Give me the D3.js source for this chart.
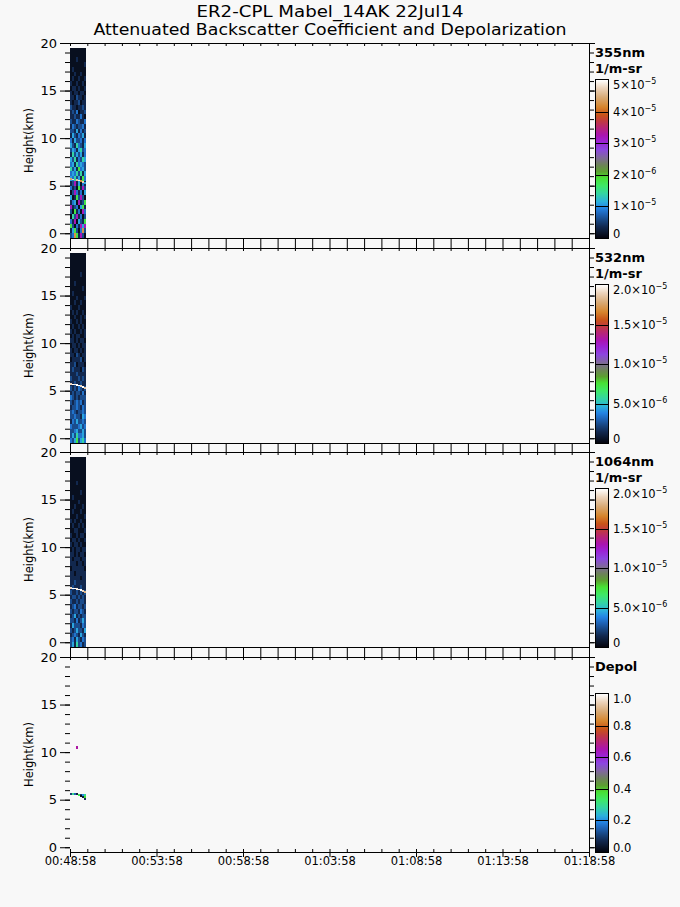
<!DOCTYPE html>
<html>
<head>
<meta charset="utf-8">
<script src="https://cdn.jsdelivr.net/npm/d3@7"></script>
<style>
  body { margin: 0; background: #f8f8f8; }
  svg { display: block; }
  text { font-family: "DejaVu Sans", sans-serif; fill: #000; }
</style>
</head>
<body>
<svg id="chart" width="680" height="907"></svg>
<script>
var titleLines = ["ER2-CPL Mabel_14AK 22Jul14", "Attenuated Backscatter Coefficient and Depolarization"];
var xTickLabels = ["00:48:58", "00:53:58", "00:58:58", "01:03:58", "01:08:58", "01:13:58", "01:18:58"];
var spanSeconds = 1800; // 00:48:58 -> 01:18:58
var heightTicks = [0, 5, 10, 15, 20];
var channelNames = ["355nm", "532nm", "1064nm", "Depol"];
var channelUnits = ["1/m-sr", "1/m-sr", "1/m-sr", ""];
var channelMax = [5e-5, 2e-5, 2e-5, 1.0];
var cbarLabels = [
  ["0", "1×10^−5", "2×10^−6", "3×10^−5", "4×10^−5", "5×10^−5"],
  ["0", "5.0×10^−6", "1.0×10^−5", "1.5×10^−5", "2.0×10^−5"],
  ["0", "5.0×10^−6", "1.0×10^−5", "1.5×10^−5", "2.0×10^−5"],
  ["0.0", "0.2", "0.4", "0.6", "0.8", "1.0"]
];

// colour table of the colour bars (fraction of max -> colour)
var cmapStops = [0, 0.03, 0.07, 0.11, 0.15, 0.19, 0.23, 0.28, 0.33, 0.38, 0.42, 0.46, 0.51, 0.56, 0.61, 0.65, 0.70, 0.74, 0.78, 0.83, 0.89, 0.95, 1];
var cmapColors = ["#04040e", "#0a1428", "#12284e", "#18447e", "#1e62b4", "#2484e4", "#2cb0dc", "#34d4a4", "#3ee868", "#48e034", "#5ca030",
                  "#6c8456", "#80689c", "#8c46e0", "#9c22d4", "#aa14b0", "#b82672", "#c03a40", "#c85418", "#d6862e", "#d8aa76", "#ecd4bc", "#ffffff"];

// profiles: first ~54 s of the flight, 8 columns, 0.5 km bins from 19.5 km down to -0.5 km
// each digit is a signal level; levelFrac gives its fraction of the bar max
var colSeconds = 6.75;
var binKm = 0.5;
var binTop = 19.5;
var levelFrac = [0.02, 0.07, 0.12, 0.17, 0.22, 0.28, 0.36, 0.5, 0.64, 0.85];

var level355 = [
  "00000000", "00000000", "00010000", "00000001", "01000000",
  "00100100", "01001001", "10010010", "01101001", "10110110",
  "11021101", "10112011", "21101121", "12130112", "11211310",
  "21132113", "13212231", "22141312", "14213241", "31422313",
  "42153214", "24314523", "15242413", "42513254", "34153432",
  "52416342", "34352514", "43524163",
  "12814031", "31206182", "02831304", "40162820", "13408126", "81230461",
  "20613083", "05281302", "31804216", "62031848", "14620392", "23961820"
];
var level532 = [
  "00000000", "00000000", "00000000", "00000000", "00000100",
  "00000000", "00100000", "00000010", "01000000", "00010001",
  "00100100", "10001000", "01010010", "00100101", "10010100",
  "01001010", "10100101", "01011001", "11010110", "01101011",
  "10110101", "11021011", "01111201", "11201110", "12111021",
  "11121111", "21112121", "11211211",
  "21213212", "12122131", "32121222", "21232312", "12232132", "23212232",
  "22322143", "13242232", "32223423", "22342242", "24253342", "32462453"
];
var level1064 = [
  "00000000", "00000000", "00000000", "00000000", "00000000",
  "00010000", "00000000", "00000100", "01000000", "00001000",
  "00100010", "01000100", "00010001", "10100100", "01001010",
  "00110001", "10010110", "01101001", "10110100", "01011011",
  "11010110", "10111011", "11101101", "01111110", "11011111",
  "11111011", "11211111", "12111211",
  "21121212", "12212121", "21121221", "12312212", "21221321", "12412122",
  "22131242", "14222132", "21242214", "12321421", "23142132", "24152312"
];
var levels = [level355, level532, level1064];

// bright layer near 5.5 km, one height per column
var layerKm = [5.8, 5.75, 5.75, 5.7, 5.65, 5.6, 5.5, 5.4];
var layer355 = [4.4e-5, 4.8e-5, 1.3e-5, 4.6e-5, 4.9e-5, 4.2e-5, 4.7e-5, 1.1e-5];
var layer532 = [1.9e-5, 2.0e-5, 1.95e-5, 2.0e-5, 2.0e-5, 1.9e-5, 2.0e-5, 1.85e-5];
var layer1064 = [1.9e-5, 2.0e-5, 2.0e-5, 1.95e-5, 2.0e-5, 2.0e-5, 1.9e-5, 1.8e-5];
var layers = [layer355, layer532, layer1064];

// depolarization: the few cells with a value
var depolCol = [0, 1, 2, 3, 4, 5, 5, 6, 6, 7, 7, 7, 3];
var depolKm = [5.7, 5.75, 5.75, 5.7, 5.6, 5.65, 5.45, 5.6, 5.35, 5.55, 5.35, 5.15, 10.6];
var depolValue = [0.1, 0.3, 0.15, 0.05, 0.35, 0.1, 0.02, 0.2, 0.05, 0.3, 0.38, 0.08, 0.66];

var panelTops = [43, 248, 452, 657];
var panelHeight = 195;
var left = 70, right = 589;

var svg = d3.select("#chart");
var x = d3.scaleLinear().domain([0, spanSeconds]).range([left, right]);
var cmap = d3.scaleLinear().domain(cmapStops).range(cmapColors).interpolate(d3.interpolateRgb).clamp(true);
var minutes = d3.range(0, spanSeconds + 1, 60);
var fives = d3.range(0, spanSeconds + 1, 300);
var kms = d3.range(0, 21);

svg.append("rect").attr("width", 680).attr("height", 907).attr("fill", "#f8f8f8");

svg.selectAll(".title").data(titleLines).enter().append("text")
  .attr("class", "title")
  .attr("x", 330)
  .attr("y", function(d, i) { return 17 + i * 18; })
  .attr("text-anchor", "middle")
  .attr("font-size", 15)
  .attr("textLength", function(d, i) { return i ? 473 : 267; })
  .attr("lengthAdjust", "spacingAndGlyphs")
  .text(function(d) { return d; });

panelTops.forEach(function(top, i) { drawPanel(i, top); });

function textStyle(sel, size) {
  sel.attr("font-family", null).attr("font-size", null);
  sel.selectAll("text").attr("font-size", size).attr("fill", "#000");
  sel.selectAll("line, path").attr("stroke", "#000");
}

function drawPanel(i, top) {
  var bottom = top + panelHeight;
  var y = d3.scaleLinear().domain([-0.5, 20]).range([bottom, top]);
  var maxV = channelMax[i];
  var g = svg.append("g");
  var colW = x(colSeconds) - x(0);

  if (i < 3) {
    var cells = [];
    levels[i].forEach(function(row, r) {
      for (var c = 0; c < row.length; c++) {
        cells.push({c: c, top: binTop - r * binKm, v: levelFrac[+row[c]] * maxV});
      }
    });
    g.selectAll(".cell").data(cells).enter().append("rect")
      .attr("class", "cell")
      .attr("x", function(d) { return x(d.c * colSeconds); })
      .attr("width", colW)
      .attr("y", function(d) { return y(d.top); })
      .attr("height", y(0) - y(binKm))
      .attr("fill", function(d) { return cmap(d.v / maxV); })
      .attr("shape-rendering", "crispEdges");

    g.selectAll(".layer").data(layers[i]).enter().append("rect")
      .attr("class", "layer")
      .attr("x", function(d, c) { return x(c * colSeconds); })
      .attr("width", colW)
      .attr("y", function(d, c) { return y(layerKm[c]); })
      .attr("height", y(0) - y(0.2))
      .attr("fill", function(d) { return cmap(d / maxV); })
      .attr("shape-rendering", "crispEdges");
  } else {
    g.selectAll(".dp").data(depolValue).enter().append("rect")
      .attr("class", "dp")
      .attr("x", function(d, k) { return x(depolCol[k] * colSeconds); })
      .attr("width", colW)
      .attr("y", function(d, k) { return y(depolKm[k]); })
      .attr("height", y(0) - y(0.22))
      .attr("fill", function(d) { return cmap(d / maxV); })
      .attr("shape-rendering", "crispEdges");
  }

  // left axis: no axis line, outward ticks
  g.append("g").attr("transform", "translate(" + left + ",0)")
    .call(d3.axisLeft(y).tickValues(kms).tickSize(5).tickFormat(""))
    .call(function(s) { s.select(".domain").remove(); textStyle(s, 13); });
  g.append("g").attr("transform", "translate(" + left + ",0)")
    .call(d3.axisLeft(y).tickValues(heightTicks).tickSize(10).tickPadding(3).tickFormat(d3.format("d")))
    .call(function(s) { s.select(".domain").remove(); textStyle(s, 13); });

  // right axis
  g.append("g").attr("transform", "translate(" + right + ",0)")
    .call(d3.axisRight(y).tickValues(kms).tickSize(5).tickSizeOuter(0).tickFormat(""))
    .call(function(s) { textStyle(s, 13); });
  g.append("g").attr("transform", "translate(" + right + ",0)")
    .call(d3.axisRight(y).tickValues(heightTicks).tickSize(6).tickFormat(""))
    .call(function(s) { s.select(".domain").remove(); textStyle(s, 13); });

  // top axis, ticks inward
  g.append("g").attr("transform", "translate(0," + top + ")")
    .call(d3.axisBottom(x).tickValues(minutes).tickSize(3).tickSizeOuter(0).tickFormat(""))
    .call(function(s) { textStyle(s, 12); });

  // bottom axis
  if (i < 3) {
    var gap = panelTops[i + 1] - bottom;
    g.append("g").attr("transform", "translate(0," + bottom + ")")
      .call(d3.axisBottom(x).tickValues(minutes).tickSize(gap).tickSizeOuter(0).tickFormat(""))
      .call(function(s) { textStyle(s, 12); });
  } else {
    g.append("g").attr("transform", "translate(0," + bottom + ")")
      .call(d3.axisTop(x).tickValues(minutes).tickSize(3).tickSizeOuter(0).tickFormat(""))
      .call(function(s) { textStyle(s, 12); });
    g.append("g").attr("transform", "translate(0," + bottom + ")")
      .call(d3.axisBottom(x).tickValues(fives).tickSize(5).tickPadding(0)
        .tickFormat(function(d, j) { return xTickLabels[j]; }))
      .call(function(s) { s.select(".domain").remove(); textStyle(s, 11.5); });
  }

  g.append("text")
    .attr("transform", "translate(33," + ((top + bottom) / 2) + ") rotate(-90)")
    .attr("text-anchor", "middle")
    .attr("font-size", 11.5)
    .text("Height(km)");

  // colour bar
  var cbTop = top + 37, cbBottom = bottom, cbX = 596, cbW = 13;
  var cb = d3.scaleLinear().domain([0, maxV]).range([cbBottom, cbTop]);
  var rows = d3.range(cbTop, cbBottom);
  g.selectAll(".cbrow").data(rows).enter().append("rect")
    .attr("class", "cbrow")
    .attr("x", cbX).attr("width", cbW)
    .attr("y", function(d) { return d; }).attr("height", 1)
    .attr("fill", function(d) { return cmap((cbBottom - d - 0.5) / (cbBottom - cbTop)); })
    .attr("shape-rendering", "crispEdges");
  g.append("rect")
    .attr("x", cbX - 0.5).attr("y", cbTop - 0.5)
    .attr("width", cbW).attr("height", cbBottom - cbTop + 1)
    .attr("fill", "none").attr("stroke", "#000");

  var labs = cbarLabels[i];
  var n = labs.length - 1;
  labs.forEach(function(lab, k) {
    var v = maxV * k / n;
    var yy = cb(v);
    if (k > 0 && k < n) {
      g.append("line")
        .attr("x1", cbX).attr("x2", cbX + cbW - 1)
        .attr("y1", Math.round(yy) + 0.5).attr("y2", Math.round(yy) + 0.5)
        .attr("stroke", "#000");
    }
    var base = Math.max(cbTop + 8.5, Math.min(cbBottom, yy + 4));
    var parts = lab.split("^");
    var t = g.append("text").attr("x", 613).attr("y", base).attr("font-size", 11.5);
    t.append("tspan").text(parts[0]);
    if (parts[1]) t.append("tspan").attr("dy", -5).attr("font-size", 8).text(parts[1]);
  });

  g.append("text").attr("x", 595).attr("y", top + 14)
    .attr("font-size", 13).attr("font-weight", "bold").text(channelNames[i]);
  if (channelUnits[i]) {
    g.append("text").attr("x", 595).attr("y", top + 30)
      .attr("font-size", 13).attr("font-weight", "bold").text(channelUnits[i]);
  }
}
</script>
</body>
</html>
